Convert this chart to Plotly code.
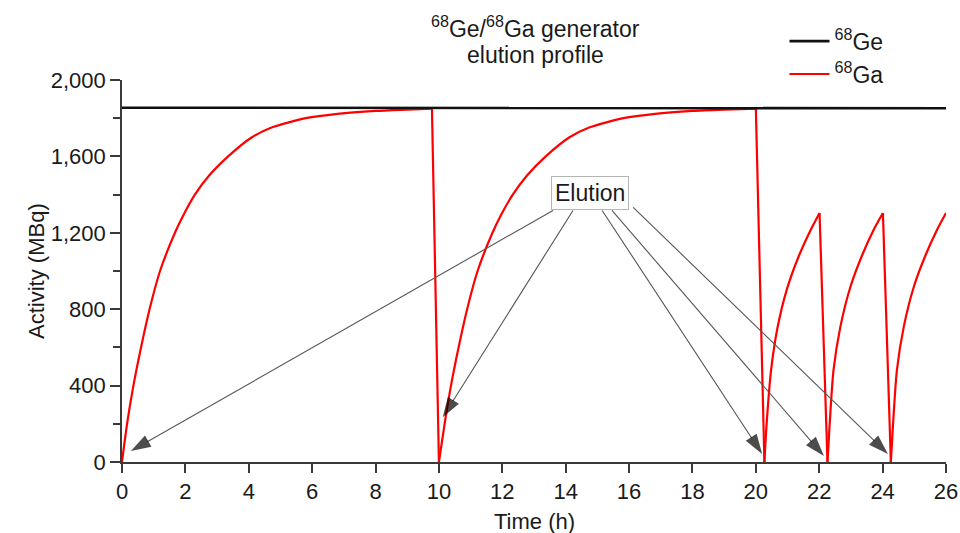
import plotly.graph_objects as go

# ---- data ----
ge_t = [0, 26]
ge_v = [1855, 1852]

# 68Ga ingrowth segments (time h, activity MBq)
rise1_t = [0, 0.16, 0.36, 0.60, 0.87, 1.20, 1.67, 1.96, 2.30, 2.75, 3.35, 4.10, 4.70, 5.80, 6.80, 8.00, 9.00, 9.78]
rise1_v = [0, 200, 400, 600, 800, 1000, 1200, 1300, 1400, 1500, 1600, 1700, 1750, 1800, 1823, 1838, 1845, 1850]
rise2_t = [10.0, 10.18, 10.38, 10.62, 10.89, 11.22, 11.69, 11.98, 12.33, 12.78, 13.37, 14.12, 14.72, 15.82, 16.82, 18.0, 19.0, 20.0]
rise2_v = [0, 200, 400, 600, 800, 1000, 1200, 1300, 1400, 1500, 1600, 1700, 1750, 1800, 1823, 1838, 1845, 1850]
rise3_t = [20.27, 20.34, 20.48, 20.68, 20.99, 21.36, 21.73, 22.01]
rise3_v = [0, 200, 480, 700, 910, 1080, 1215, 1304]
rise4_t = [22.26, 22.33, 22.45, 22.67, 22.99, 23.36, 23.73, 24.01]
rise4_v = [0, 200, 480, 710, 920, 1085, 1220, 1304]
rise5_t = [24.26, 24.33, 24.45, 24.67, 24.99, 25.36, 25.73, 26.0]
rise5_v = [0, 200, 480, 710, 920, 1085, 1220, 1304]

# elution arrows: tip (time, activity) and tail (time, activity)
elution_tip_t = [0.28, 10.12, 20.2, 22.15, 24.17]
elution_tip_v = [57, 234, 42, 31, 42]
elution_tail_t = [13.6, 14.23, 15.15, 15.46, 16.13]
elution_tail_v = [1317, 1317, 1317, 1317, 1333]
elution_label_t = 14.76
elution_label_v = 1410

y_ticks = [0, 400, 800, 1200, 1600, 2000]
x_ticks = list(range(0, 27, 2))

FONT = "Liberation Sans, Arial, Helvetica, sans-serif"
RED = "#ff0000"
TXT = "#1a1a1a"
AX = "#3a3a3a"

fig = go.Figure()

rises = [(rise1_t, rise1_v), (rise2_t, rise2_v), (rise3_t, rise3_v),
         (rise4_t, rise4_v), (rise5_t, rise5_v)]
for i, (t, v) in enumerate(rises):
    fig.add_trace(go.Scatter(
        x=t, y=v, mode="lines", line=dict(color=RED, width=2.2, shape="spline", smoothing=0.7),
        name="<sup>68</sup>Ga", legendgroup="ga", showlegend=(i == 0), legendrank=2,
        hoverinfo="skip"))
    if i + 1 < len(rises):
        nt, nv = rises[i + 1]
        fig.add_trace(go.Scatter(
            x=[t[-1], nt[0]], y=[v[-1], nv[0]], mode="lines",
            line=dict(color=RED, width=2.2), legendgroup="ga", showlegend=False,
            hoverinfo="skip"))

fig.add_trace(go.Scatter(
    x=ge_t, y=ge_v, mode="lines", line=dict(color="#111111", width=2.6),
    name="<sup>68</sup>Ge", legendrank=1, hoverinfo="skip"))

# elution arrows as line + arrow-head marker traces
for tt, tv, at, av in zip(elution_tip_t, elution_tip_v, elution_tail_t, elution_tail_v):
    fig.add_trace(go.Scatter(
        x=[at, tt], y=[av, tv], mode="lines+markers",
        line=dict(color="#555555", width=1.1),
        marker=dict(symbol=["circle", "arrow"], size=[0, 21], angleref="previous",
                    color="#000000", line=dict(width=0)),
        showlegend=False, hoverinfo="skip", cliponaxis=False))

annotations = [
    dict(x=elution_label_t, y=elution_label_v, xref="x", yref="y", text="Elution",
         showarrow=False, font=dict(family=FONT, size=23, color=TXT),
         bordercolor="#b5b5b5", borderwidth=1, borderpad=3, bgcolor="white"),
    dict(x=0.502, y=38, xref="paper", yref="paper", text="<sup>68</sup>Ge/<sup>68</sup>Ga generator",
         showarrow=False, font=dict(family=FONT, size=23, color=TXT)),
    dict(x=0.502, y=64, xref="paper", yref="paper", text="elution profile",
         showarrow=False, font=dict(family=FONT, size=23, color=TXT)),
    dict(x=-0.122, y=0.5, xref="paper", yref="paper", textangle=-90,
         text="Activity (MBq)", showarrow=False,
         font=dict(family=FONT, size=22, color=TXT)),
    dict(x=0.5, y=0, xref="paper", yref="paper", yanchor="top", yshift=-45,
         text="Time (h)", showarrow=False,
         font=dict(family=FONT, size=22, color=TXT)),
]
# convert title pixel baselines to paper coordinates (plot top 80px, height 382px)
for a in annotations[1:3]:
    base_px = a["y"]
    a["y"] = (533 - 71 - base_px) / 382.0
    a["yanchor"] = "bottom"
    a["yshift"] = -6

fig.update_layout(
    width=960, height=533,
    margin=dict(l=122, r=14, t=80, b=71, autoexpand=False),
    paper_bgcolor="white", plot_bgcolor="white",
    font=dict(family=FONT, size=22, color=TXT),
    showlegend=True,
    legend=dict(x=0.804, y=1.158, xanchor="left", yanchor="top",
                bgcolor="rgba(0,0,0,0)", font=dict(family=FONT, size=23, color=TXT),
                tracegroupgap=0, itemwidth=40),
    annotations=annotations,
    xaxis=dict(range=[0, 26], tickvals=x_ticks, ticks="outside", ticklen=9,
               tickwidth=1.6, tickcolor=AX, showline=True, linecolor=AX,
               linewidth=1.6, showgrid=False, zeroline=False,
               tickfont=dict(family=FONT, size=22, color=TXT)),
    yaxis=dict(range=[0, 2000], tickvals=y_ticks, tickformat=",", ticks="outside",
               ticklen=10, tickwidth=1.6, tickcolor=AX, showline=True,
               linecolor=AX, linewidth=1.6, showgrid=False, zeroline=False,
               minor=dict(dtick=200, ticks="outside", ticklen=7, tickwidth=1.6,
                          tickcolor=AX, showgrid=False),
               tickfont=dict(family=FONT, size=22, color=TXT)),
)

fig.write_html("out.html", config={"displayModeBar": False},
               post_script="document.body.style.margin='0px';")
